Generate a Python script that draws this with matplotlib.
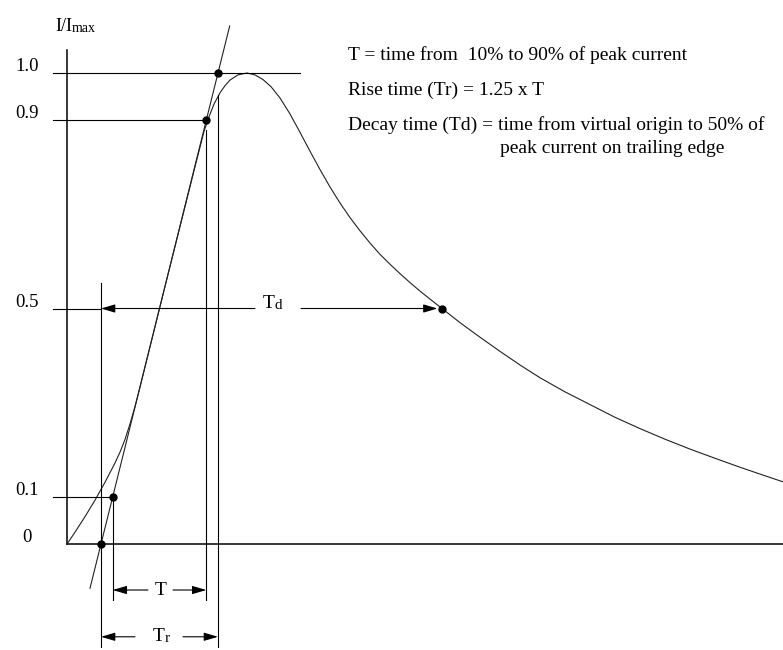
import matplotlib
matplotlib.use('Agg')
import matplotlib.pyplot as plt

plt.rcParams['font.family'] = ['Liberation Serif', 'DejaVu Serif']

# ---- data (time in arbitrary units, current normalised to peak) ----
time = [0.0, 0.8, 1.8, 2.8, 3.8, 4.8, 5.3, 5.8, 6.3, 6.8, 7.2, 8.3, 9.8, 11.3,
        12.8, 13.7, 14.2, 14.7, 15.3, 15.8, 16.3, 17.1, 18.0, 18.8, 19.6, 20.4,
        21.3, 22.3, 23.3, 24.3, 25.3, 26.3, 27.3, 28.3, 29.3, 30.3, 31.3, 32.3,
        33.3, 34.3, 35.3, 36.3, 37.5, 39.3, 41.3, 43.3, 45.3, 47.3, 49.8, 52.3,
        54.8, 57.3, 59.8, 62.3, 64.8, 67.3, 69.5, 71.6]
current = [0.000, 0.025, 0.058, 0.093, 0.131, 0.172, 0.195, 0.222, 0.255, 0.292,
           0.325, 0.419, 0.547, 0.674, 0.801, 0.876, 0.907, 0.934, 0.958, 0.973,
           0.985, 0.996, 1.000, 0.996, 0.986, 0.971, 0.947, 0.913, 0.874, 0.834,
           0.795, 0.758, 0.724, 0.693, 0.665, 0.639, 0.615, 0.594, 0.574, 0.555,
           0.537, 0.520, 0.500, 0.470, 0.439, 0.409, 0.380, 0.353, 0.323, 0.296,
           0.269, 0.245, 0.2225, 0.2015, 0.182, 0.163, 0.147, 0.132]

level_values = [0.0, 0.1, 0.5, 0.9, 1.0]
level_labels = ['0', '0.1', '0.5', '0.9', '1.0']
t10 = 4.57      # time at 10 % on the front
t90 = 13.93     # time at 90 % on the front
t_half = 37.5   # time at 50 % on the tail

slope = 0.8 / (t90 - t10)
t_origin = t10 - 0.1 / slope           # virtual origin
T = t90 - t10
Tr = 1.25 * T
t_tr_end = t_origin + Tr

# ---- figure ----
fig = plt.figure(figsize=(7.83, 6.5), dpi=100)
ax = fig.add_axes([0, 0, 1, 1])
ax.set_xlim(-6.7, 71.6)
ax.set_ylim(-106 / 471, 544 / 471)
ax.axis('off')

K = 'black'
lw = 0.8
FS = 14

# axes
ax.plot([0, 0], [0, 1.049], color=K, lw=1.1)
ax.plot([0, 71.6], [0, 0], color=K, lw=1.1)

# waveform
ax.plot(time, current, color='#222222', lw=0.8)

# tangent through 10 % and 90 % points
ty = [-0.094, 1.10]
tx = [t_origin + y / slope for y in ty]
ax.plot(tx, ty, color='#222222', lw=0.8)

# horizontal reference lines
ax.plot([-1.4, 23.3], [1.0, 1.0], color=K, lw=lw)
ax.plot([-1.4, t90], [0.9, 0.9], color=K, lw=lw)
ax.plot([-1.4, t10], [0.1, 0.1], color=K, lw=lw)
ax.plot([-1.4, t_origin], [0.5, 0.5], color=K, lw=lw)

# vertical reference lines
ax.plot([t_origin, t_origin], [0.554, -0.219], color=K, lw=lw)
ax.plot([t10, t10], [0.1, -0.119], color=K, lw=lw)
ax.plot([t90, t90], [0.879, -0.119], color=K, lw=lw)
ax.plot([t_tr_end, t_tr_end], [0.953, -0.219], color=K, lw=lw)

# dots
ax.plot([t_origin, t10, t90, t_tr_end, t_half], [0, 0.1, 0.9, 1.0, 0.5],
        'o', color=K, ms=5)

ap = dict(arrowstyle='-|>,head_length=0.85,head_width=0.25', color=K, lw=lw,
          mutation_scale=10, shrinkA=0, shrinkB=0)


def dim(y, x0, x1, g0, g1):
    ax.annotate('', xy=(x0, y), xytext=(g0, y), arrowprops=ap)
    ax.annotate('', xy=(x1, y), xytext=(g1, y), arrowprops=ap)


def sub_label(x, y, big, small, fs=FS, sfs=11):
    t = ax.text(x, y, big, fontsize=fs, ha='left', va='baseline', color=K)
    ax.annotate(small, xy=(1, 0), xycoords=t, fontsize=sfs, ha='left',
                va='bottom', color=K)
    return t


# Td
dim(0.5, t_origin, t_half - 0.45, 18.8, 23.4)
sub_label(19.6, 0.5, 'T', 'd')
# T
dim(-0.0977, t10, t90, 8.1, 10.6)
ax.text(9.4, -0.0977, 'T', fontsize=FS, ha='center', va='center', color=K)
# Tr
dim(-0.197, t_origin, t_tr_end, 6.8, 11.6)
sub_label(8.6, -0.205, 'T', 'r')

# y labels
for v, lab in zip(level_values, level_labels):
    x = -4.5 if lab == '0' else -5.2
    ax.text(x, v + 0.013, lab, fontsize=13.5, ha='left', va='center', color=K)

# y title
t1 = ax.text(-1.2, 1.090, 'I/I', fontsize=13, ha='left', va='baseline', color=K)
ax.annotate('max', xy=(1, 0), xycoords=t1, fontsize=10, ha='left',
            va='bottom', color=K)

# notes
notes_x = 28.1
ax.text(notes_x, 1.038, 'T = time from  10% to 90% of peak current', fontsize=FS,
        ha='left', va='center', color=K)
ax.text(notes_x, 0.964, 'Rise time (Tr) = 1.25 x T', fontsize=FS,
        ha='left', va='center', color=K)
ax.text(notes_x, 0.890, 'Decay time (Td) = time from virtual origin to 50% of',
        fontsize=FS, ha='left', va='center', color=K)
ax.text(43.3, 0.840, 'peak current on trailing edge', fontsize=FS,
        ha='left', va='center', color=K)

fig.savefig('out.png', dpi=100, facecolor='white')
